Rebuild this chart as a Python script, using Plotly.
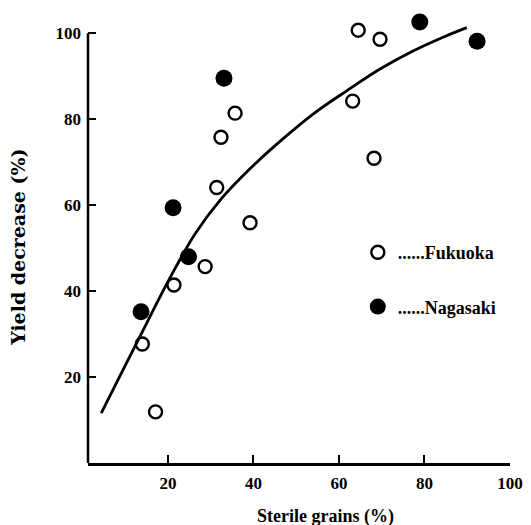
import plotly.graph_objects as go

# Data
fuk_x = [14.0, 17.1, 21.4, 28.7, 31.4, 32.4, 35.7, 39.2, 63.2, 64.5, 69.6, 68.2]
fuk_y = [27.7, 11.9, 41.4, 45.7, 64.1, 75.8, 81.4, 55.9, 84.2, 100.7, 98.6, 70.9]

nag_x = [13.7, 21.2, 24.8, 33.1, 78.9, 92.3]
nag_y = [35.2, 59.4, 48.0, 89.5, 102.6, 98.1]

curve_x = [4.4, 9.4, 14.0, 17.9, 21.8, 26.4, 32.5, 38.7, 46.4, 54.1, 61.8, 69.5, 77.2, 84.9, 89.9]
curve_y = [11.6, 21.5, 30.5, 38.2, 45.5, 53.4, 61.5, 68.0, 75.0, 81.3, 86.6, 91.6, 95.8, 99.3, 101.3]

tick_vals = [20, 40, 60, 80, 100]
tick_text = ["20", "40", "60", "80", "100"]

FONT = "Liberation Serif"

# Page has an 8px body margin; figure is sized so the page layout fits the window.
W, H = 523, 517
ML, MR, MT, MB = 80, 16, 8, 62
OFF = 8
pw, ph = W - ML - MR, H - MT - MB


def px2paper(x, y):
    return ((x - OFF - ML) / pw, (H - MB - (y - OFF)) / ph)


fig = go.Figure()
fig.add_trace(go.Scatter(x=curve_x, y=curve_y, mode="lines",
                         line=dict(color="black", width=2.8, shape="spline", smoothing=1.0),
                         showlegend=False, hoverinfo="skip"))
fig.add_trace(go.Scatter(x=fuk_x, y=fuk_y, mode="markers", name="......Fukuoka",
                         legendgroup="f",
                         marker=dict(symbol="circle-open", size=13, color="black",
                                     line=dict(width=2.4, color="black")),
                         cliponaxis=False))
fig.add_trace(go.Scatter(x=nag_x, y=nag_y, mode="markers", name="......Nagasaki",
                         legendgroup="n",
                         marker=dict(symbol="circle", size=17, color="black"),
                         cliponaxis=False))

tick_common = dict(showgrid=False, zeroline=False, ticks="inside", ticklen=8, tickwidth=2.2,
                   tickcolor="black", tickvals=tick_vals, ticktext=tick_text,
                   tickfont=dict(family=FONT, size=17, color="black", weight="bold"))

lx, ly = px2paper(361, 234)
ax_x, ax_y = px2paper(17, 247)
bx_x, bx_y = px2paper(328, 516)

fig.update_layout(
    width=W, height=H,
    margin=dict(l=ML, r=MR, t=MT, b=MB),
    paper_bgcolor="white", plot_bgcolor="white",
    xaxis=dict(range=[1.3, 100], showline=True, linecolor="black", linewidth=2.5,
               ticklabelstandoff=3, **tick_common),
    yaxis=dict(range=[0, 104], showline=False, ticklabelstandoff=6, **tick_common),
    showlegend=True,
    legend=dict(x=lx, y=ly, xanchor="left", yanchor="top",
                tracegroupgap=28, bgcolor="rgba(0,0,0,0)",
                font=dict(family=FONT, size=18, color="black", weight="bold")),
    shapes=[dict(type="line", xref="paper", yref="y", x0=0, x1=0, y0=0, y1=100,
                 line=dict(color="black", width=2.5))],
    annotations=[
        dict(text="Yield decrease (%)", x=ax_x, y=ax_y, xref="paper", yref="paper",
             xanchor="center", yanchor="middle", showarrow=False, textangle=-90,
             font=dict(family="DejaVu Serif", size=19, color="black", weight="bold")),
        dict(text="Sterile grains (%)", x=bx_x, y=bx_y, xref="paper", yref="paper",
             xanchor="center", yanchor="middle", showarrow=False,
             font=dict(family=FONT, size=18, color="black", weight="bold")),
    ],
)

fig.write_html("out.html")
